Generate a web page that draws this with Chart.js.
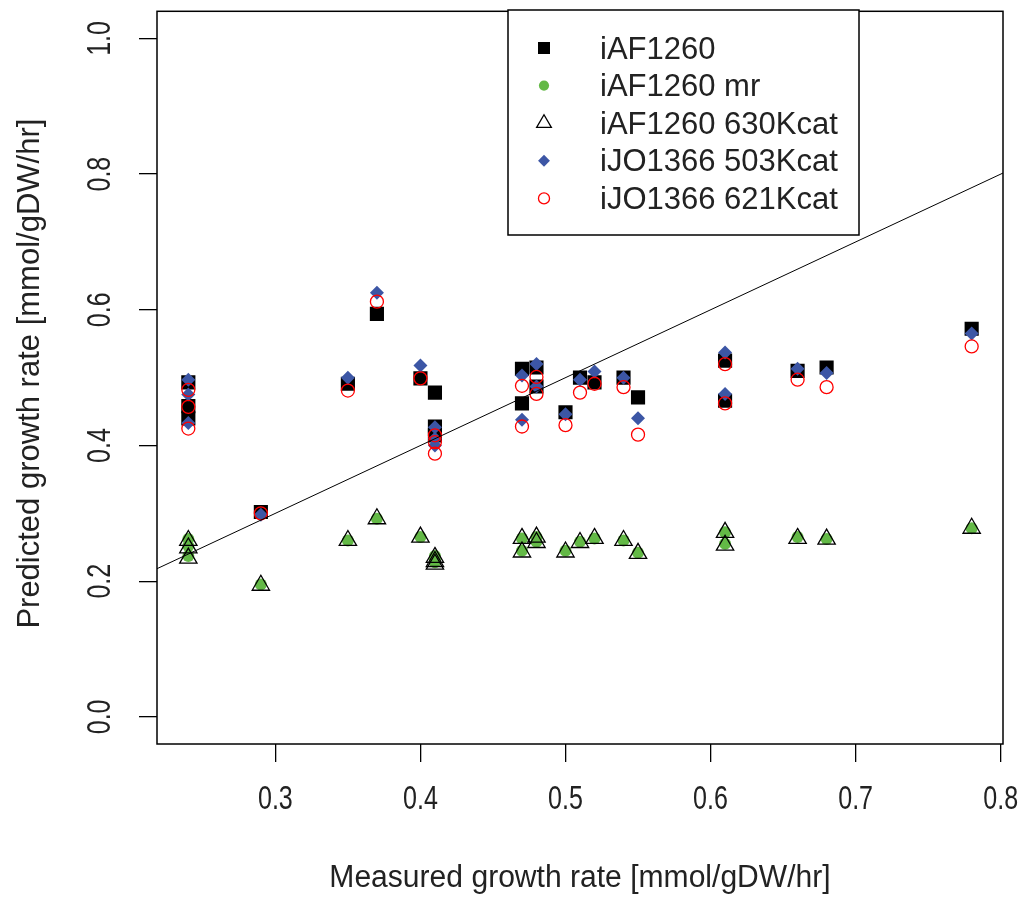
<!DOCTYPE html>
<html>
<head>
<meta charset="utf-8">
<script src="https://cdn.jsdelivr.net/npm/chart.js@4.4.0/dist/chart.umd.min.js"></script>
<style>
  html, body { margin: 0; padding: 0; background: #fff; }
</style>
</head>
<body>
<canvas id="chart" width="1027" height="897"></canvas>
<script>
// measured growth rate for each condition (x)
const measured = [0.24, 0.24, 0.24, 0.29, 0.35, 0.37, 0.40, 0.41, 0.41, 0.41, 0.47, 0.47,
                  0.48, 0.48, 0.50, 0.51, 0.52, 0.54, 0.55, 0.61, 0.61, 0.66, 0.68, 0.78];

// predicted growth rates per model
const iAF1260 = [0.493, 0.458, 0.440, 0.302, 0.491, 0.594, 0.499, 0.478, 0.428, 0.415, 0.513, 0.462,
                 0.515, 0.487, 0.449, 0.500, 0.493, 0.500, 0.471, 0.525, 0.466, 0.510, 0.515, 0.572];
const iAF1260mr = [0.262, 0.252, 0.237, 0.195, 0.260, 0.292, 0.265, 0.237, 0.232, 0.228, 0.263, 0.245,
                   0.265, 0.258, 0.245, 0.258, 0.263, 0.260, 0.242, 0.272, 0.255, 0.265, 0.262, 0.278];
const iAF1260k = [0.260, 0.249, 0.234, 0.194, 0.260, 0.292, 0.265, 0.235, 0.229, 0.225, 0.263, 0.243,
                  0.265, 0.257, 0.243, 0.257, 0.263, 0.260, 0.241, 0.272, 0.253, 0.263, 0.262, 0.278];
const iJO503 = [0.497, 0.475, 0.433, 0.298, 0.500, 0.625, 0.518, 0.410, 0.427, 0.400, 0.503, 0.438,
                0.520, 0.487, 0.446, 0.497, 0.509, 0.500, 0.440, 0.537, 0.476, 0.513, 0.507, 0.565];
const iJO621 = [0.482, 0.457, 0.425, 0.300, 0.481, 0.612, 0.499, 0.405, 0.415, 0.388, 0.488, 0.428,
                0.501, 0.476, 0.430, 0.478, 0.491, 0.486, 0.416, 0.520, 0.462, 0.497, 0.486, 0.546];

// 1:1 line
const refLine = [0.2, 0.9];

const labels = ["iAF1260", "iAF1260 mr", "iAF1260 630Kcat", "iJO1366 503Kcat", "iJO1366 621Kcat"];
const xTicks = [0.3, 0.4, 0.5, 0.6, 0.7, 0.8];
const yTicks = [0.0, 0.2, 0.4, 0.6, 0.8, 1.0];
const xTitle = "Measured growth rate [mmol/gDW/hr]";
const yTitle = "Predicted growth rate [mmol/gDW/hr]";

const pts = (ys) => measured.map((x, i) => ({ x: x, y: ys[i] }));

const styles = [
  { pointStyle: "rect", radius: 10, bg: "#000000", border: "#000000", bw: 0 },
  { pointStyle: "circle", radius: 6, bg: "#63b946", border: "#63b946", bw: 0 },
  { pointStyle: "triangle", radius: 10, bg: "rgba(0,0,0,0)", border: "#000000", bw: 1.3 },
  { pointStyle: "rectRot", radius: 7, bg: "#3c56a5", border: "#3c56a5", bw: 0 },
  { pointStyle: "circle", radius: 6.5, bg: "rgba(0,0,0,0)", border: "#ff0000", bw: 1.3 },
];
const series = [iAF1260, iAF1260mr, iAF1260k, iJO503, iJO621];

const datasets = series.map((s, i) => ({
  type: "scatter",
  label: labels[i],
  data: pts(s),
  pointStyle: styles[i].pointStyle,
  pointRadius: styles[i].radius,
  pointBackgroundColor: styles[i].bg,
  pointBorderColor: styles[i].border,
  pointBorderWidth: styles[i].bw,
  order: 5 - i,
}));

datasets.push({
  type: "line",
  label: "1:1",
  data: refLine.map((v) => ({ x: v, y: v })),
  borderColor: "#000",
  borderWidth: 1,
  pointRadius: 0,
  order: 0,
});

const font = '"Liberation Sans", Arial, sans-serif';

// box, tick labels, titles and legend drawn R-style
const rStyle = {
  id: "rStyle",
  afterDraw(chart) {
    const ctx = chart.ctx;
    const a = chart.chartArea;
    const xs = chart.scales.x, ys = chart.scales.y;
    ctx.save();
    ctx.strokeStyle = "#000";
    ctx.lineWidth = 1.5;
    ctx.strokeRect(a.left, a.top, a.right - a.left, a.bottom - a.top);

    ctx.fillStyle = "#222";
    ctx.font = "33px " + font;
    ctx.textAlign = "center";
    ctx.textBaseline = "middle";
    xTicks.forEach((v) => {
      ctx.save();
      ctx.translate(xs.getPixelForValue(v), 800);
      ctx.scale(0.76, 1);
      ctx.fillText(v.toFixed(1), 0, 0);
      ctx.restore();
    });
    yTicks.forEach((v) => {
      ctx.save();
      ctx.translate(101, ys.getPixelForValue(v));
      ctx.rotate(-Math.PI / 2);
      ctx.scale(0.76, 1);
      ctx.fillText(v.toFixed(1), 0, 0);
      ctx.restore();
    });

    ctx.font = "31px " + font;
    ctx.save();
    ctx.translate((a.left + a.right) / 2, 878);
    ctx.scale(0.97, 1);
    ctx.fillText(xTitle, 0, 0);
    ctx.restore();
    ctx.save();
    ctx.translate(30, (a.top + a.bottom) / 2 - 4);
    ctx.rotate(-Math.PI / 2);
    ctx.fillText(yTitle, 0, 0);
    ctx.restore();

    // legend
    ctx.fillStyle = "#fff";
    ctx.fillRect(508, 10, 351, 225);
    ctx.strokeRect(508, 10, 351, 225);
    ctx.textAlign = "left";
    ctx.font = "31px " + font;
    labels.forEach((lab, i) => {
      const y = 48 + i * 37.6;
      const st = styles[i];
      ctx.fillStyle = st.bg;
      ctx.strokeStyle = st.border;
      ctx.lineWidth = st.bw;
      Chart.helpers.drawPoint(ctx, {
        pointStyle: st.pointStyle,
        radius: st.radius * 0.85,
        rotation: 0,
        borderWidth: st.bw,
      }, 544, y);
      ctx.fillStyle = "#222";
      ctx.fillText(lab, 600, y + 2);
    });
    ctx.restore();
  },
};

new Chart(document.getElementById("chart"), {
  data: { datasets: datasets },
  options: {
    responsive: false,
    animation: false,
    devicePixelRatio: 1,
    layout: { padding: { top: 10, right: 24, left: 0, bottom: 0 } },
    plugins: { legend: { display: false }, tooltip: { enabled: false } },
    scales: {
      x: {
        type: "linear",
        min: 0.2184,
        max: 0.8016,
        afterBuildTicks: (s) => { s.ticks = xTicks.map((v) => ({ value: v })); },
        afterFit: (s) => { s.height = 153; },
        ticks: { display: false },
        grid: { drawOnChartArea: false, drawTicks: true, tickLength: 18, color: "#000", lineWidth: 1.3 },
        border: { display: false },
      },
      y: {
        type: "linear",
        min: -0.04,
        max: 1.04,
        afterBuildTicks: (s) => { s.ticks = yTicks.map((v) => ({ value: v })); },
        afterFit: (s) => { s.width = 157; },
        ticks: { display: false },
        grid: { drawOnChartArea: false, drawTicks: true, tickLength: 18, color: "#000", lineWidth: 1.3 },
        border: { display: false },
      },
    },
  },
  plugins: [rStyle],
});
</script>
</body>
</html>
